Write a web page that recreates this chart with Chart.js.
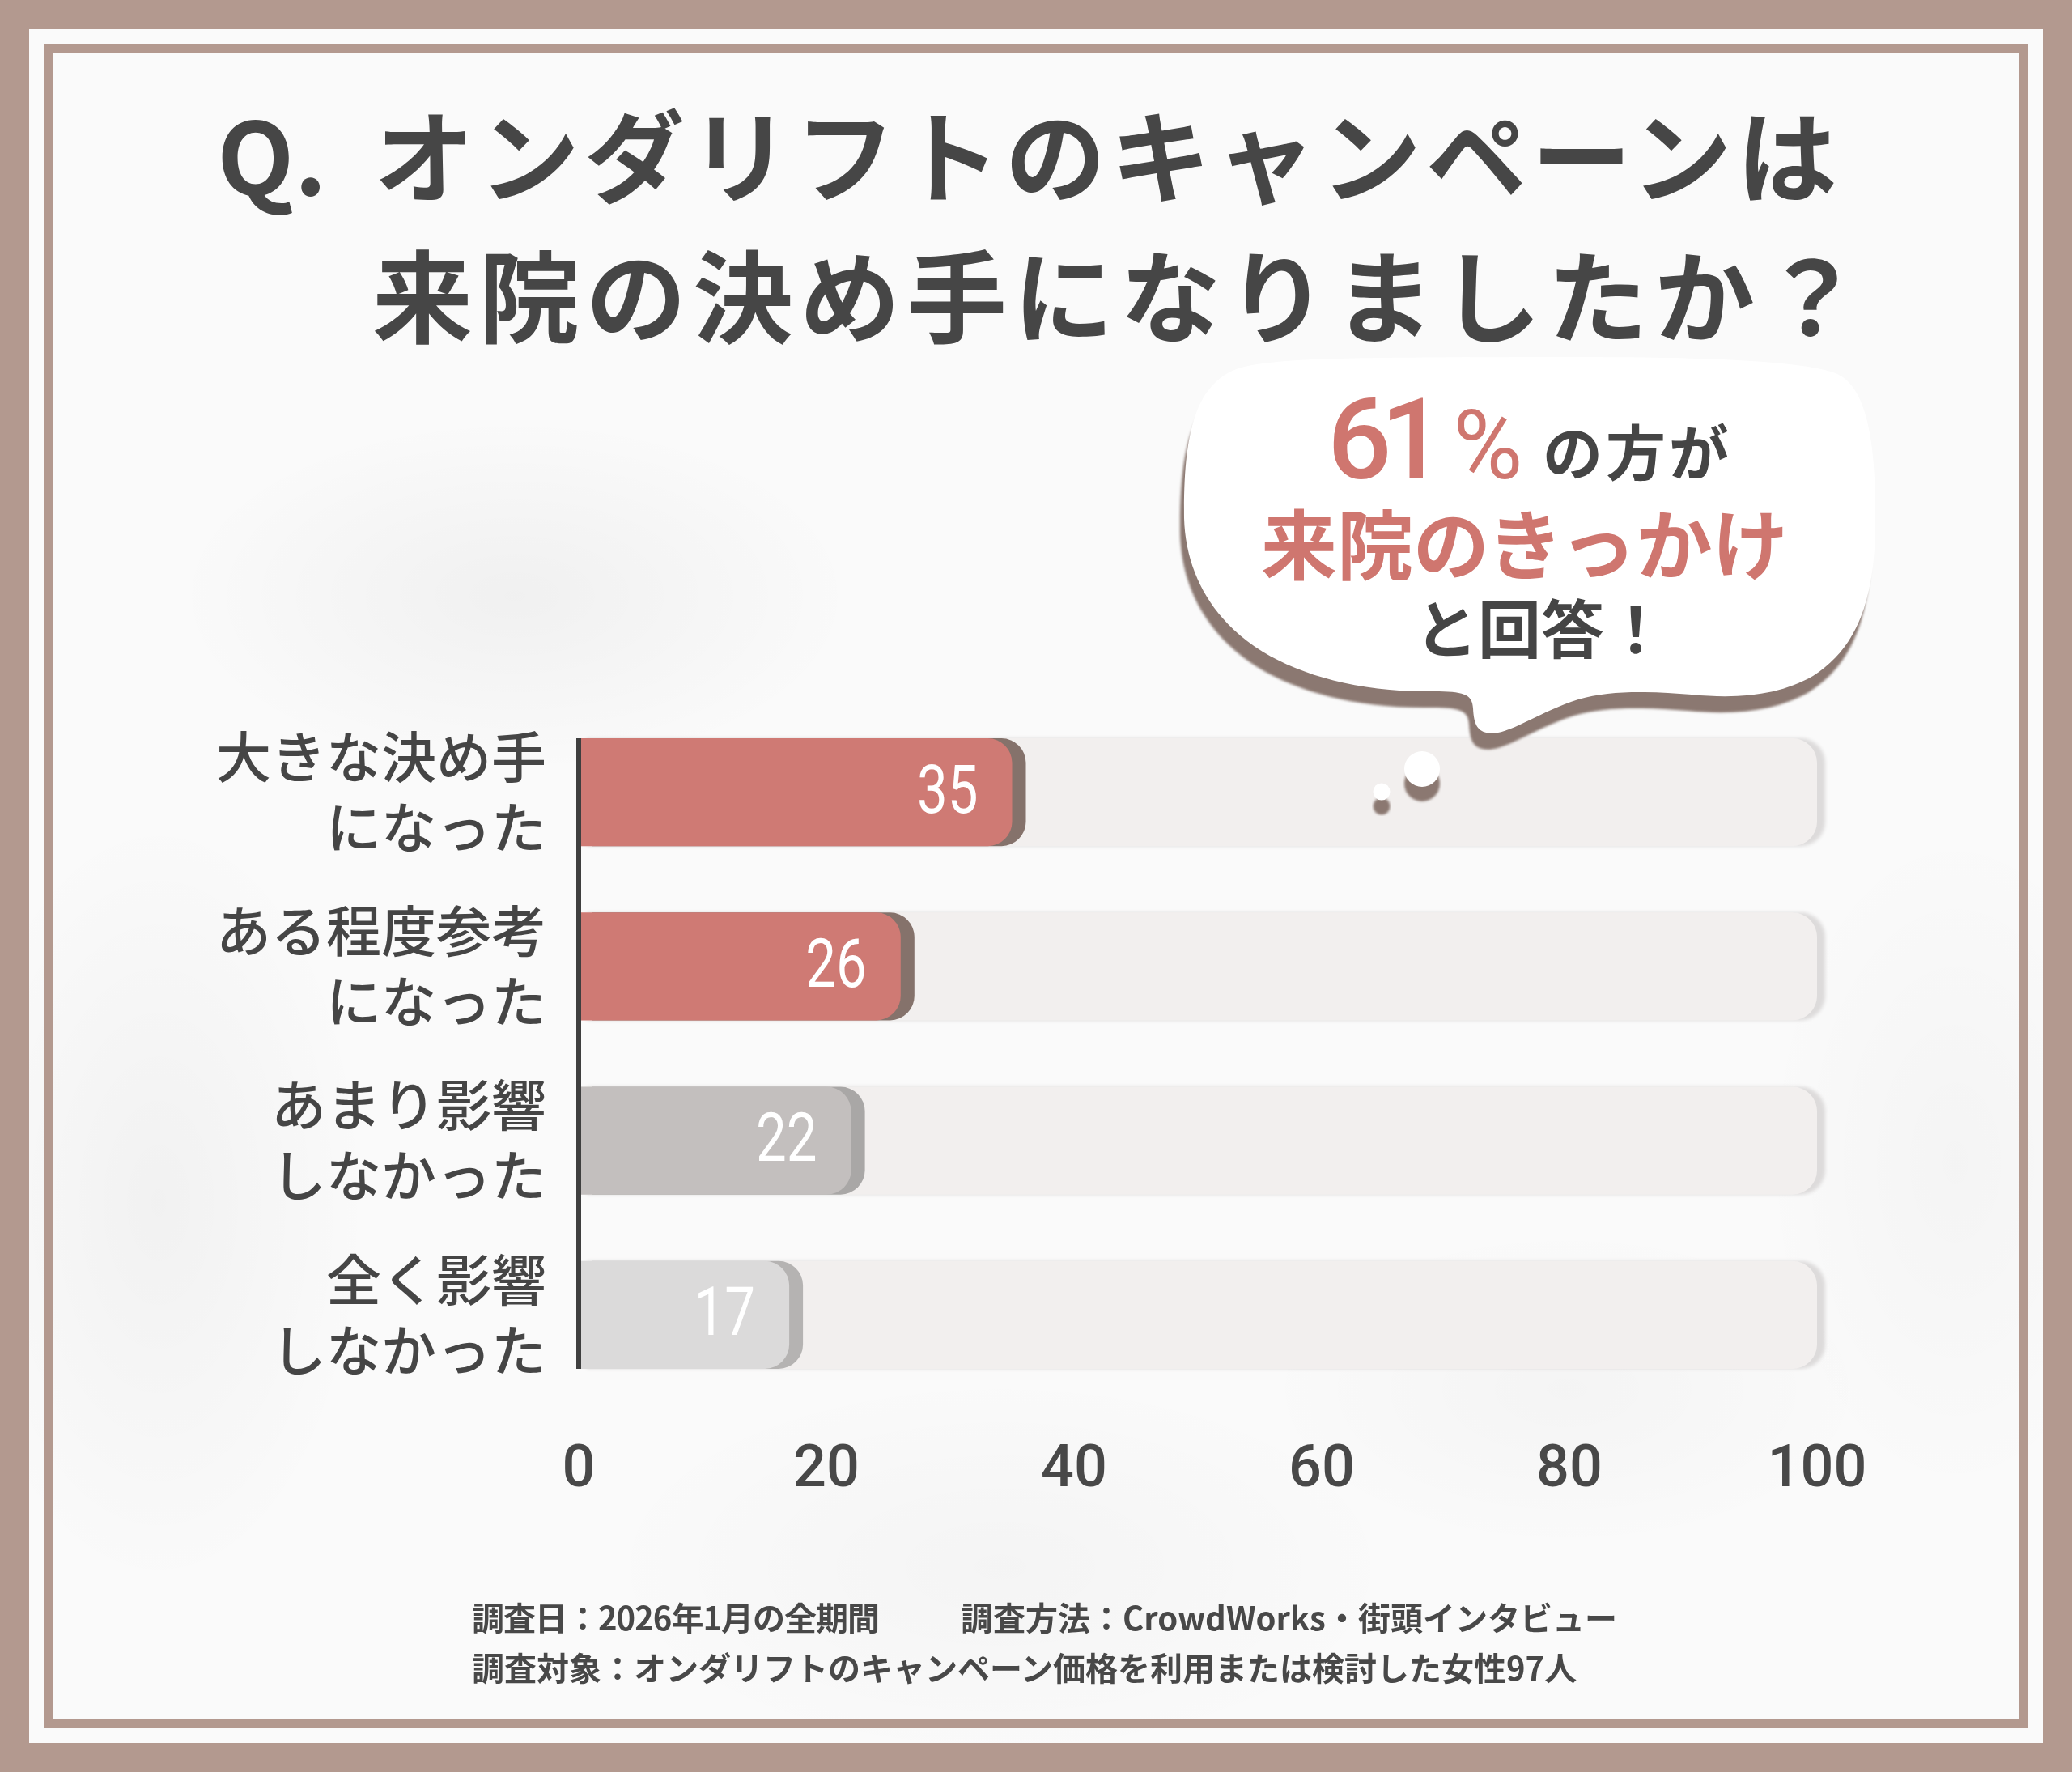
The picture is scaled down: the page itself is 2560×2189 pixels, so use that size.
<!DOCTYPE html>
<html lang="ja">
<head>
<meta charset="utf-8">
<script src="https://cdn.jsdelivr.net/npm/chart.js@4.4.1/dist/chart.umd.min.js"></script>
<style>
  html, body { margin: 0; padding: 0; }
  #page { position: relative; width: 2560px; height: 2189px; background: #b3998f; overflow: hidden; }
  #panel {
    position: absolute; left: 36px; top: 36px; right: 36px; bottom: 36px;
    background-color: #fafafa;
    background-image:
      radial-gradient(ellipse 420px 220px at 600px 700px, rgba(0,0,0,0.04), rgba(0,0,0,0)),
      radial-gradient(ellipse 260px 480px at 160px 1450px, rgba(0,0,0,0.035), rgba(0,0,0,0)),
      radial-gradient(ellipse 380px 200px at 1900px 1680px, rgba(0,0,0,0.025), rgba(0,0,0,0)),
      radial-gradient(ellipse 500px 240px at 1200px 1900px, rgba(0,0,0,0.025), rgba(0,0,0,0)),
      radial-gradient(ellipse 240px 420px at 2380px 1400px, rgba(0,0,0,0.025), rgba(0,0,0,0));
  }
  #frame { position: absolute; left: 54px; top: 54px; right: 54px; bottom: 54px; border: 11px solid #b3998f; }
  #chart { position: absolute; left: 0; top: 0; }
  #overlay { position: absolute; left: 0; top: 0; pointer-events: none; }
</style>
</head>
<body>
<div id="page">
  <div id="panel"></div>
  <div id="frame"></div>
  <canvas id="chart" width="2560" height="2189"></canvas>
  <svg id="overlay" width="2560" height="2189" viewBox="0 0 2560 2189">
    <defs>
      <filter id="soft" x="-5%" y="-5%" width="110%" height="110%"><feGaussianBlur stdDeviation="1.5"/></filter>
    </defs>
    <!-- title -->
    <g font-family="'Noto Sans CJK JP', sans-serif" font-weight="700" fill="#464646">
      <text x="268" y="241" font-size="124">Q.</text>
      <text x="462" y="241" font-size="124" letter-spacing="6">オンダリフトのキャンペーンは</text>
      <text x="460" y="414" font-size="124" letter-spacing="8">来院の決め手になりましたか？</text>
    </g>
    <!-- speech bubble -->
    <g id="bubble">
      <path transform="translate(-5,20)" filter="url(#soft)" fill="#8b7871"
        d="M 1890 441 C 2100 440 2230 445 2270 462 C 2310 480 2318 560 2317 650 C 2316 740 2295 800 2240 835 C 2200 858 2150 864 2090 858 C 2040 854 1990 852 1950 864 C 1905 878 1870 904 1845 906 C 1825 906 1821 895 1820 875 C 1819 858 1810 854 1770 854 C 1680 855 1610 835 1560 805 C 1500 768 1465 710 1463 640 C 1462 540 1475 475 1530 455 C 1580 440 1700 442 1890 441 Z"/>
      <path fill="#ffffff"
        d="M 1890 441 C 2100 440 2230 445 2270 462 C 2310 480 2318 560 2317 650 C 2316 740 2295 800 2240 835 C 2200 858 2150 864 2090 858 C 2040 854 1990 852 1950 864 C 1905 878 1870 904 1845 906 C 1825 906 1821 895 1820 875 C 1819 858 1810 854 1770 854 C 1680 855 1610 835 1560 805 C 1500 768 1465 710 1463 640 C 1462 540 1475 475 1530 455 C 1580 440 1700 442 1890 441 Z"/>
      <circle cx="1757" cy="968" r="22" fill="#8b7871" filter="url(#soft)"/>
      <circle cx="1757" cy="950" r="22" fill="#ffffff"/>
      <circle cx="1707" cy="996" r="10.5" fill="#8b7871" filter="url(#soft)"/>
      <circle cx="1707" cy="978" r="10.5" fill="#ffffff"/>
      <text x="1640" y="591" font-family="Roboto, sans-serif" font-weight="500" font-size="140" letter-spacing="-14" fill="#cf766f">61</text>
      <text x="1795" y="591" font-family="Roboto, sans-serif" font-weight="400" font-size="118" fill="#cf766f">%</text>
      <text x="1906" y="587" font-family="'Noto Sans CJK JP', sans-serif" font-weight="700" font-size="74" letter-spacing="4" fill="#454545">の方が</text>
      <text x="1558" y="709" font-family="'Noto Sans CJK JP', sans-serif" font-weight="700" font-size="94" fill="#cf766f">来院のきっかけ</text>
      <text x="1748" y="807" font-family="'Noto Sans CJK JP', sans-serif" font-weight="700" font-size="78" fill="#454545">と回答！</text>
    </g>
    <!-- footer -->
    <g font-family="'Noto Sans CJK JP', sans-serif" font-weight="700" font-size="40" fill="#484848">
      <text x="583" y="2014" letter-spacing="-1">調査日：2026年1月の全期間</text>
      <text x="1187" y="2014">調査方法：CrowdWorks・街頭インタビュー</text>
      <text x="583" y="2076">調査対象：オンダリフトのキャンペーン価格を利用または検討した女性97人</text>
    </g>
  </svg>
</div>
<script>
// survey answers (%), n=97
var categories = [['大きな決め手', 'になった'], ['ある程度参考', 'になった'], ['あまり影響', 'しなかった'], ['全く影響', 'しなかった']];
var values = [35, 26, 22, 17];
var trackValues = [100, 100, 100, 100];
var xTicks = [0, 20, 40, 60, 80, 100];

var barColors = ['#cf7a74', '#cf7a74', '#c3bfbe', '#dbdada'];
var edgeColors = ['#85726b', '#85726b', '#a9a7a6', '#b5b3b2'];

// draws each bar with a hard shadow to the right (the dark rounded edge)
var barShadow = {
  id: 'barShadow',
  beforeDatasetDraw: function(chart, args) {
    var ctx = chart.ctx;
    var isTrack = args.index === 1;
    args.meta.data.forEach(function(bar, i) {
      ctx.save();
      ctx.shadowColor = isTrack ? '#dddbdb' : edgeColors[i];
      ctx.shadowOffsetX = isTrack ? 10 : 17;
      ctx.shadowBlur = isTrack ? 4 : 0;
      bar.draw(ctx);
      ctx.restore();
    });
    return false;
  },
  afterDatasetsDraw: function(chart) {
    var ctx = chart.ctx;
    var meta = chart.getDatasetMeta(0);
    // value labels inside the bars
    ctx.save();
    ctx.fillStyle = '#ffffff';
    ctx.font = '400 84px Roboto';
    ctx.textAlign = 'right';
    ctx.textBaseline = 'middle';
    meta.data.forEach(function(bar, i) {
      ctx.save();
      ctx.translate(bar.x - 42, bar.y + 4);
      ctx.scale(0.8, 1);
      ctx.fillText(String(values[i]), 0, 0);
      ctx.restore();
    });
    // axis line only along the bars
    var first = meta.data[0], last = meta.data[meta.data.length - 1];
    var x0 = chart.scales.x.getPixelForValue(0);
    ctx.strokeStyle = '#3f3f3f';
    ctx.lineWidth = 6;
    ctx.beginPath();
    ctx.moveTo(x0, first.y - first.height / 2);
    ctx.lineTo(x0, last.y + last.height / 2);
    ctx.stroke();
    ctx.restore();
  }
};

new Chart(document.getElementById('chart'), {
  type: 'bar',
  data: {
    labels: categories,
    datasets: [{
      data: values,
      backgroundColor: barColors,
      borderRadius: {topLeft: 0, bottomLeft: 0, topRight: 30, bottomRight: 30},
      borderSkipped: false,
      barPercentage: 0.618,
      categoryPercentage: 1,
      grouped: false,
      order: 0
    }, {
      data: trackValues,
      backgroundColor: '#f2efee',
      borderRadius: {topLeft: 0, bottomLeft: 0, topRight: 30, bottomRight: 30},
      borderSkipped: false,
      barPercentage: 0.618,
      categoryPercentage: 1,
      grouped: false,
      order: 1
    }]
  },
  options: {
    indexAxis: 'y',
    responsive: false,
    animation: false,
    layout: {padding: {top: 871, right: 315, bottom: 0, left: 0}},
    plugins: {legend: {display: false}, tooltip: {enabled: false}},
    scales: {
      x: {
        min: 0, max: 100,
        grid: {display: false, drawTicks: false},
        border: {display: false},
        afterBuildTicks: function(s) { s.ticks = xTicks.map(function(v) { return {value: v}; }); },
        afterFit: function(s) { s.height = 457; },
        ticks: {padding: 43, color: '#484848', font: {family: 'Roboto', size: 72, weight: '500'}}
      },
      y: {
        grid: {display: false, drawTicks: false},
        border: {display: false},
        afterFit: function(s) { s.width = 715; },
        ticks: {padding: 40, color: '#454545', font: {family: '"Noto Sans CJK JP"', size: 68, weight: '500', lineHeight: 1.28}}
      }
    }
  },
  plugins: [barShadow]
});
</script>
</body>
</html>
